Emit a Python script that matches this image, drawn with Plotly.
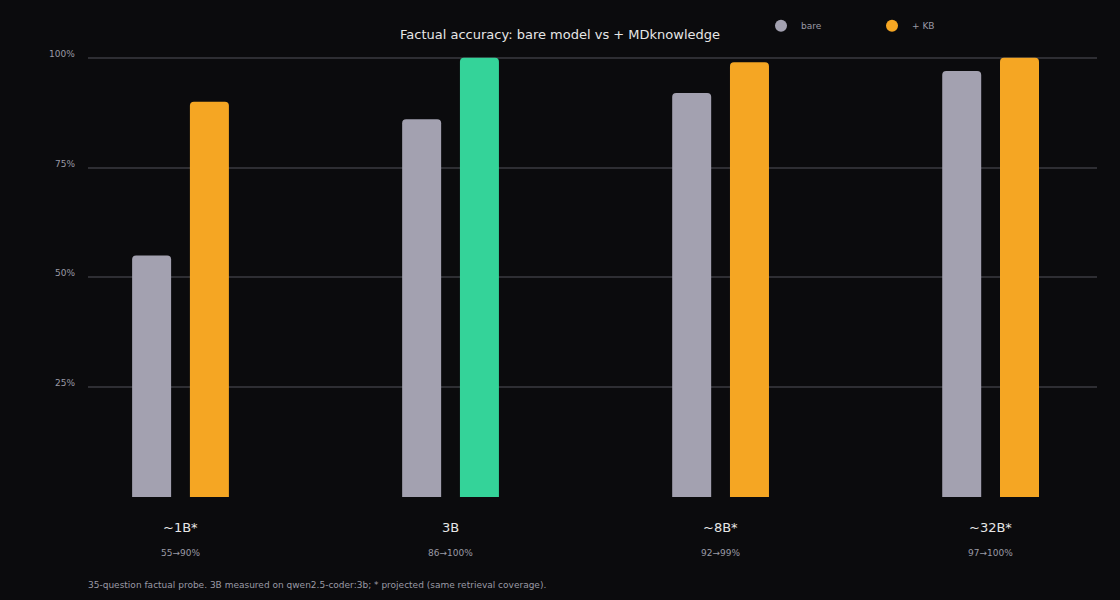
import plotly.graph_objects as go

categories = ["~1B*", "3B", "~8B*", "~32B*"]
sublabels = ["55→90%", "86→100%", "92→99%", "97→100%"]
bare = [55, 86, 92, 97]
kb = [90, 100, 99, 100]
kb_colors = ["#f5a623", "#34d399", "#f5a623", "#f5a623"]
y_ticks = [25, 50, 75, 100]
y_ticktext = ["25%", "50%", "75%", "100%"]

BG = "#0b0b0d"
BARE_C = "#a3a1b0"
ORANGE = "#f5a623"
FONT = "DejaVu Sans"

x = list(range(len(categories)))
bw = 0.1444

fig = go.Figure()
fig.add_trace(go.Bar(x=x, y=bare, width=bw, offset=-0.107 - bw / 2,
                     marker=dict(color=BARE_C, cornerradius=4, line=dict(width=0)),
                     showlegend=False, name="bare"))
fig.add_trace(go.Bar(x=x, y=kb, width=bw, offset=0.107 - bw / 2,
                     marker=dict(color=kb_colors, cornerradius=4, line=dict(width=0)),
                     showlegend=False, name="+ KB"))
# legend entries with circle symbols
fig.add_trace(go.Scatter(x=[None], y=[None], mode="markers", name="bare",
                         marker=dict(color=BARE_C, size=11, symbol="circle")))
fig.add_trace(go.Scatter(x=[None], y=[None], mode="markers", name="+ KB",
                         marker=dict(color=ORANGE, size=11, symbol="circle")))

annotations = []
for i, (c, s) in enumerate(zip(categories, sublabels)):
    annotations.append(dict(x=i, y=0, xref="x", yref="y", text=c, showarrow=False,
                            yshift=-30, font=dict(size=13, color="#e6e6e6", family=FONT)))
    annotations.append(dict(x=i, y=0, xref="x", yref="y", text=s, showarrow=False,
                            yshift=-56, font=dict(size=9, color="#9a9aa5", family=FONT)))
for v, t in zip(y_ticks, y_ticktext):
    annotations.append(dict(x=0, y=v, xref="paper", yref="y", text=t, showarrow=False,
                            xanchor="right", xshift=-11, yshift=4,
                            font=dict(size=9, color="#9a9aa5", family=FONT)))
annotations.append(dict(x=0, y=-0.199, xref="paper", yref="paper", xanchor="left",
                        yanchor="middle", xshift=-2,
                        text="35-question factual probe. 3B measured on qwen2.5-coder:3b; * projected (same retrieval coverage).",
                        showarrow=False, font=dict(size=9, color="#9a9aa5", family=FONT)))

fig.update_layout(
    width=1120, height=600,
    paper_bgcolor=BG, plot_bgcolor=BG,
    margin=dict(l=88, r=23, t=55, b=103),
    barmode="overlay",
    font=dict(family=FONT, color="#e6e6e6"),
    title=dict(text="Factual accuracy: bare model vs + MDknowledge", x=0.5, xanchor="center",
               y=0.942, yanchor="middle", font=dict(size=13, color="#e6e6e6", family=FONT)),
    legend=dict(orientation="h", x=0.667, xanchor="left", y=1.066, yanchor="middle",
                entrywidth=66, bgcolor="rgba(0,0,0,0)",
                font=dict(size=9, color="#9a9aa5", family=FONT), itemsizing="constant"),
    xaxis=dict(range=[-0.3426, 3.394], showgrid=False, zeroline=False, showticklabels=False,
               showline=False),
    yaxis=dict(range=[0, 100.4], tickvals=y_ticks, showticklabels=False, showgrid=True,
               gridcolor="#2e2e33", gridwidth=1.5, zeroline=False, showline=False),
    annotations=annotations,
)

fig.write_html("out.html", config={"displayModeBar": False},
               post_script="document.body.style.margin='0';document.body.style.background='#0b0b0d';")
